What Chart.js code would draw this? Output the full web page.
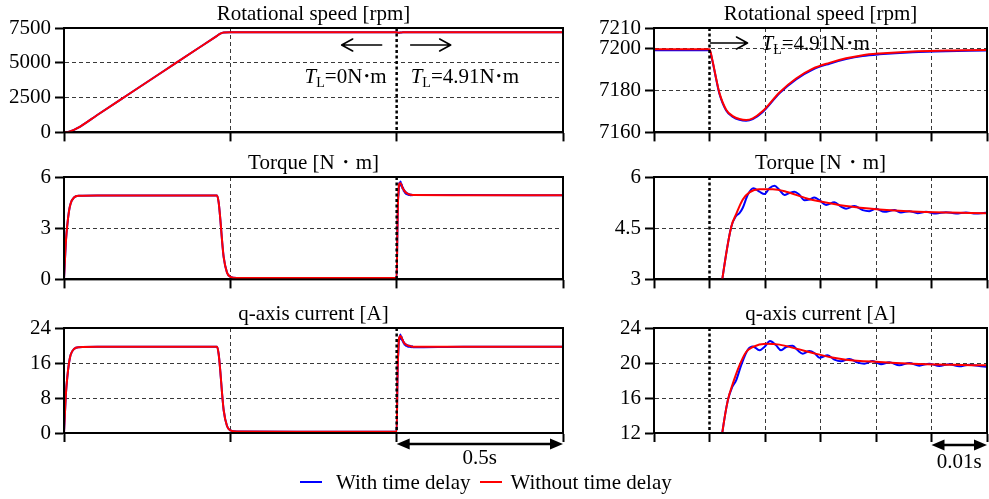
<!DOCTYPE html>
<html><head><meta charset="utf-8">
<script src="https://cdn.jsdelivr.net/npm/chart.js@4.4.1/dist/chart.umd.min.js"></script>
<style>
html,body{margin:0;padding:0;background:#fff;overflow:hidden;}
#wrap{position:relative;width:989px;height:499px;overflow:hidden;background:#fff;}
canvas{position:absolute;}
#legend{position:absolute;left:300px;top:470px;height:24px;display:flex;align-items:center;font:21px "Liberation Serif","Times New Roman",serif;color:#000;white-space:nowrap;}
.sw{display:inline-block;width:22px;height:2px;}
</style></head><body>
<div id="wrap">
<canvas id="c1"></canvas><canvas id="c2"></canvas>
<canvas id="c3"></canvas><canvas id="c4"></canvas>
<canvas id="c5"></canvas><canvas id="c6"></canvas>
<div id="legend"></div>
</div>
<script>
// ---------------- data ----------------
const seriesNames = ['With time delay', 'Without time delay'];
const seriesColors = ['#0000ff', '#ff0000'];
const titles = ['Rotational speed [rpm]', 'Torque [N・m]', 'q-axis current [A]'];
const LOAD_TIME = 1.0;
const loadLabels = ['0', '4.91'];
const scaleBarLeft = [1.0, 1.5];   // 0.5 s
const scaleBarRight = [1.04, 1.05]; // 0.01 s
const scaleBarTexts = ['0.5s', '0.01s'];

const xTicksLeft = [0, 0.5, 1.0, 1.5];
const xTicksRight = [0.99, 1.0, 1.01, 1.02, 1.03, 1.04, 1.05];
const speedTicksLeft = [0, 2500, 5000, 7500];
const speedTicksRight = [7160, 7180, 7200, 7210];
const torqueTicksLeft = [0, 3, 6];
const torqueTicksRight = [3, 4.5, 6];
const currentTicksLeft = [0, 8, 16, 24];
const currentTicksRight = [12, 16, 20, 24];

// rotational speed [rpm]
const tSpeed = [0, 0.01, 0.02, 0.04, 0.1, 0.2, 0.3, 0.4, 0.46, 0.47,
  0.48, 0.5, 0.8, 1.0, 1.0006, 1.0012, 1.0018, 1.003, 1.0042, 1.0054,
  1.0066, 1.0078, 1.0096, 1.0126, 1.0156, 1.0186, 1.0216, 1.0246, 1.0276, 1.0306,
  1.0366, 1.0426, 1.0498, 1.2, 1.5];
const speedWithout = [0, 20, 80, 300, 1250, 2830, 4410, 5990, 6940, 7100,
  7180, 7199.5, 7199.6, 7199.8, 7193.6, 7185.8, 7178.8, 7170.9, 7167.8, 7166.4,
  7165.9, 7166.7, 7170.2, 7179.1, 7185.8, 7190.5, 7193.3, 7195.5, 7197.0, 7197.8,
  7198.8, 7199.2, 7199.5, 7199.6, 7199.6];
const speedWith = [0, 20, 80, 300, 1250, 2830, 4410, 5990, 6940, 7100,
  7180, 7199.2, 7199.3, 7199.4, 7193.3, 7185.5, 7178.4, 7170.5, 7167.4, 7166.0,
  7165.6, 7166.4, 7169.8, 7178.7, 7185.4, 7190.1, 7192.9, 7195.1, 7196.6, 7197.4,
  7198.4, 7198.9, 7199.2, 7199.3, 7199.3];

// torque [N・m]
const tTorqueWithout = [0, 0.003, 0.006, 0.01, 0.015, 0.02, 0.03, 0.045, 0.1, 0.46,
  0.465, 0.47, 0.475, 0.48, 0.49, 0.5, 0.52, 0.7, 1.0, 1.0023,
  1.0039, 1.0048, 1.006, 1.0072, 1.009, 1.0114, 1.0138, 1.0174, 1.0198, 1.0246,
  1.0306, 1.0366, 1.0426, 1.0499, 1.2, 1.5];
const torqueWithout = [0, 1.2, 2.3, 3.2, 4.0, 4.45, 4.8, 4.9, 4.92, 4.92,
  4.5, 3.5, 2.3, 1.3, 0.4, 0.15, 0.08, 0.08, 0.08, 3.0,
  4.53, 4.91, 5.34, 5.55, 5.64, 5.64, 5.57, 5.38, 5.29, 5.15,
  5.05, 4.99, 4.96, 4.94, 4.93, 4.93];
const tTorqueWith = [0, 0.003, 0.006, 0.01, 0.015, 0.02, 0.03, 0.045, 0.1, 0.46,
  0.465, 0.47, 0.475, 0.48, 0.49, 0.5, 0.52, 0.7, 1.0,
  1.0023, 1.0039, 1.0048, 1.0054, 1.006, 1.0069, 1.0079, 1.009, 1.0099, 1.0108,
  1.0117, 1.0126, 1.0135, 1.0144, 1.0153, 1.0162, 1.0171, 1.018, 1.0189, 1.0198,
  1.021, 1.0225, 1.0237, 1.0246, 1.0261, 1.0276, 1.0288, 1.03, 1.0315, 1.0333,
  1.0345, 1.036, 1.0375, 1.039, 1.0408, 1.0426, 1.0444, 1.0462, 1.048, 1.0498,
  1.2, 1.5];
const torqueWith = [0, 1.2, 2.3, 3.2, 4.0, 4.45, 4.8, 4.9, 4.92, 4.92,
  4.5, 3.5, 2.3, 1.3, 0.4, 0.15, 0.08, 0.08, 0.08,
  3.0, 4.53, 4.86, 4.94, 5.10, 5.48, 5.67, 5.57, 5.50, 5.67,
  5.74, 5.62, 5.47, 5.53, 5.57, 5.48, 5.32, 5.34, 5.40, 5.32,
  5.18, 5.26, 5.13, 5.07, 5.15, 5.03, 5.00, 5.07, 4.98, 5.03,
  4.96, 5.00, 4.94, 4.98, 4.93, 4.97, 4.93, 4.96, 4.93, 4.95,
  4.94, 4.93];

// q-axis current [A]
const tCurrentWithout = [0, 0.003, 0.006, 0.01, 0.015, 0.02, 0.03, 0.045, 0.1, 0.46,
  0.465, 0.47, 0.475, 0.48, 0.49, 0.5, 0.52, 0.7, 1.0,
  1.0023, 1.0033, 1.0042, 1.0054, 1.0066, 1.0078, 1.0102, 1.0126, 1.0156, 1.0186,
  1.0216, 1.0246, 1.0306, 1.0366, 1.0426, 1.0498, 1.2, 1.5];
const currentWithout = [0, 4.8, 9.2, 12.8, 16.0, 17.9, 19.2, 19.6, 19.7, 19.7,
  18.0, 14.0, 9.2, 5.2, 1.6, 0.6, 0.32, 0.3, 0.3,
  12.0, 15.73, 17.64, 19.73, 21.26, 21.83, 22.2, 22.1, 21.64, 21.14,
  20.69, 20.38, 20.11, 19.92, 19.81, 19.73, 19.72, 19.72];
const tCurrentWith = [0, 0.003, 0.006, 0.01, 0.015, 0.02, 0.03, 0.045, 0.1, 0.46,
  0.465, 0.47, 0.475, 0.48, 0.49, 0.5, 0.52, 0.7, 1.0,
  1.0023, 1.0033, 1.0041, 1.0048, 1.0057, 1.0069, 1.0078, 1.009, 1.0099, 1.0109,
  1.012, 1.0129, 1.0138, 1.015, 1.0159, 1.0168, 1.018, 1.0189, 1.0198, 1.0213,
  1.0225, 1.0237, 1.0252, 1.0267, 1.0279, 1.0294, 1.0309, 1.0324, 1.0342, 1.036,
  1.0378, 1.0396, 1.0414, 1.0432, 1.045, 1.0468, 1.0486, 1.0498, 1.2, 1.5];
const currentWith = [0, 4.8, 9.2, 12.8, 16.0, 17.9, 19.2, 19.6, 19.7, 19.7,
  18.0, 14.0, 9.2, 5.2, 1.6, 0.6, 0.32, 0.3, 0.3,
  12.0, 15.73, 17.26, 18.02, 19.73, 21.52, 21.9, 21.45, 21.83, 22.51,
  22.02, 21.45, 21.83, 21.98, 21.45, 21.07, 21.37, 21.14, 20.61, 20.88,
  20.38, 20.19, 20.46, 20.04, 19.92, 20.23, 19.85, 20.08, 19.73, 20.0,
  19.70, 19.92, 19.66, 19.85, 19.62, 19.81, 19.66, 19.58, 19.7, 19.7];

// ---------------- drawing ----------------
const SERIF = '"Liberation Serif", "Times New Roman", serif';
Chart.defaults.font.family = SERIF;
Chart.defaults.font.size = 21;
Chart.defaults.color = '#000';

const near = (a, b) => Math.abs(a - b) < 1e-9;
function gridColorFn(hidden) {
  return c => (c.tick && hidden.some(h => near(c.tick.value, h))) ? 'rgba(0,0,0,0)' : '#3a3a3a';
}

function richText(ctx, x, y, parts, align) {
  ctx.save();
  ctx.textBaseline = 'alphabetic'; ctx.textAlign = 'left'; ctx.fillStyle = '#000';
  const ws = parts.map(p => { ctx.font = p.f; return p.w != null ? p.w : ctx.measureText(p.t).width; });
  const total = ws.reduce((a, b) => a + b, 0);
  let cx = align === 'right' ? x - total : (align === 'center' ? x - total / 2 : x);
  parts.forEach((p, i) => {
    ctx.font = p.f;
    const real = ctx.measureText(p.t).width;
    ctx.fillText(p.t, cx + (ws[i] - real) / 2, y + (p.dy || 0));
    cx += ws[i];
  });
  ctx.restore();
}
function tlParts(v) {
  return [
    {t: 'T', f: 'italic 21px ' + SERIF},
    {t: 'L', f: '14px ' + SERIF, dy: 4},
    {t: '=' + v + 'N', f: '21px ' + SERIF},
    {t: '・', f: '21px ' + SERIF, w: 8},
    {t: 'm', f: '21px ' + SERIF}
  ];
}
function openArrow(ctx, x1, x2, y) {
  const d = Math.sign(x2 - x1);
  ctx.save(); ctx.strokeStyle = '#000'; ctx.lineWidth = 1.6; ctx.lineCap = 'round'; ctx.lineJoin = 'round';
  ctx.beginPath(); ctx.moveTo(x1, y); ctx.lineTo(x2, y);
  ctx.moveTo(x2 - d * 11, y - 6); ctx.lineTo(x2, y); ctx.lineTo(x2 - d * 11, y + 6);
  ctx.stroke(); ctx.restore();
}
function dblArrow(ctx, x1, x2, y) {
  ctx.save(); ctx.fillStyle = '#000'; ctx.strokeStyle = '#000'; ctx.lineWidth = 2.5;
  ctx.beginPath(); ctx.moveTo(x1 + 8, y); ctx.lineTo(x2 - 8, y); ctx.stroke();
  ctx.beginPath(); ctx.moveTo(x1, y); ctx.lineTo(x1 + 13, y - 5.5); ctx.lineTo(x1 + 13, y + 5.5); ctx.closePath(); ctx.fill();
  ctx.beginPath(); ctx.moveTo(x2, y); ctx.lineTo(x2 - 13, y - 5.5); ctx.lineTo(x2 - 13, y + 5.5); ctx.closePath(); ctx.fill();
  ctx.restore();
}

function overlayPlugin(extra) {
  return {
    id: 'overlay',
    afterDatasetsDraw(chart) {
      const {ctx, chartArea: a, scales: {x}} = chart;
      const lx = x.getPixelForValue(LOAD_TIME);
      ctx.save();
      ctx.strokeStyle = '#000'; ctx.lineWidth = 2.5; ctx.setLineDash([3, 2.5]);
      ctx.beginPath(); ctx.moveTo(lx, a.top); ctx.lineTo(lx, a.bottom); ctx.stroke();
      ctx.setLineDash([]); ctx.lineWidth = 2;
      ctx.strokeRect(a.left, a.top, a.right - a.left, a.bottom - a.top);
      ctx.restore();
      if (extra) extra(chart, lx);
    }
  };
}

function ds(label, t, v, color, order) {
  return { label, data: t.map((x, i) => ({x, y: v[i]})), borderColor: color, backgroundColor: color,
    borderWidth: 2, pointRadius: 0, pointHoverRadius: 0, cubicInterpolationMode: 'monotone', fill: false, order };
}

const AXW = 64;
function makeChart(s) {
  const cv = document.getElementById(s.id);
  cv.width = s.w; cv.height = s.h;
  cv.style.left = s.l + 'px'; cv.style.top = s.t + 'px';
  cv.style.width = s.w + 'px'; cv.style.height = s.h + 'px';
  return new Chart(cv, {
    type: 'line',
    data: { datasets: [
      ds(seriesNames[0], s.tWith, s.vWith, seriesColors[0], 1),
      ds(seriesNames[1], s.tWithout, s.vWithout, seriesColors[1], 0)
    ]},
    options: {
      responsive: false, animation: false, devicePixelRatio: 1,
      events: [],
      layout: { padding: { top: s.pt, bottom: s.pb, left: 0, right: 0 } },
      plugins: {
        legend: { display: false }, tooltip: { enabled: false },
        title: { display: true, text: s.title, color: '#000',
          font: { size: 21, lineHeight: 1, weight: 'normal' }, padding: { top: 0, bottom: 3 } }
      },
      scales: {
        x: {
          type: 'linear', min: s.xTicks[0], max: s.xTicks[s.xTicks.length - 1],
          afterBuildTicks: sc => { sc.ticks = s.xTicks.map(v => ({value: v})); },
          afterFit: sc => { sc.height = 10; },
          ticks: { display: false },
          grid: { color: gridColorFn([s.xTicks[0], s.xTicks[s.xTicks.length - 1], LOAD_TIME]),
            lineWidth: 1, tickLength: 9, tickColor: '#000', tickWidth: 2 },
          border: { display: true, color: '#000', width: 2, dash: [4, 3] }
        },
        y: {
          type: 'linear', position: 'left', min: s.yTicks[0], max: s.yTicks[s.yTicks.length - 1],
          afterBuildTicks: sc => { sc.ticks = s.yTicks.map(v => ({value: v})); },
          afterFit: sc => { sc.width = AXW; },
          ticks: { autoSkip: false, padding: 4, color: '#000', font: { size: 21 }, callback: v => String(v) },
          grid: { color: gridColorFn([s.yTicks[0], s.yTicks[s.yTicks.length - 1]]),
            lineWidth: 1, tickLength: 9, tickColor: '#000', tickWidth: 2 },
          border: { display: true, color: '#000', width: 2, dash: [4, 3] }
        },
        yR: {
          type: 'linear', position: 'right', display: true, min: 0, max: 1,
          afterFit: sc => { sc.width = AXW; },
          grid: { display: false }, ticks: { display: false }, border: { display: false }
        }
      }
    },
    plugins: [overlayPlugin(s.extra)]
  });
}

const LEFT = {l: 0, w: 627};
const RIGHT = {l: 590, w: 461};
const ROWS = [{t: 0, h: 149, pt: 4, pb: 4}, {t: 149, h: 147, pt: 4, pb: 4}, {t: 300, h: 183, pt: 4, pb: 40}];

makeChart(Object.assign({id: 'c1', title: titles[0], xTicks: xTicksLeft, yTicks: speedTicksLeft,
  tWith: tSpeed, vWith: speedWith, tWithout: tSpeed, vWithout: speedWithout,
  extra: (chart, lx) => {
    const {ctx, chartArea: a} = chart;
    openArrow(ctx, lx - 15, lx - 55, a.top + 17);
    openArrow(ctx, lx + 14, lx + 54, a.top + 17);
    richText(ctx, lx - 10, a.top + 55, tlParts(loadLabels[0]), 'right');
    richText(ctx, lx + 14, a.top + 55, tlParts(loadLabels[1]), 'left');
  }}, LEFT, ROWS[0]));
makeChart(Object.assign({id: 'c2', title: titles[0], xTicks: xTicksRight, yTicks: speedTicksRight,
  tWith: tSpeed, vWith: speedWith, tWithout: tSpeed, vWithout: speedWithout,
  extra: (chart, lx) => {
    const {ctx, chartArea: a} = chart;
    openArrow(ctx, lx + 1, lx + 38, a.top + 15);
    richText(ctx, lx + 52, a.top + 22, tlParts(loadLabels[1]), 'left');
  }}, RIGHT, ROWS[0]));
makeChart(Object.assign({id: 'c3', title: titles[1], xTicks: xTicksLeft, yTicks: torqueTicksLeft,
  tWith: tTorqueWith, vWith: torqueWith, tWithout: tTorqueWithout, vWithout: torqueWithout}, LEFT, ROWS[1]));
makeChart(Object.assign({id: 'c4', title: titles[1], xTicks: xTicksRight, yTicks: torqueTicksRight,
  tWith: tTorqueWith, vWith: torqueWith, tWithout: tTorqueWithout, vWithout: torqueWithout}, RIGHT, ROWS[1]));
makeChart(Object.assign({id: 'c5', title: titles[2], xTicks: xTicksLeft, yTicks: currentTicksLeft,
  tWith: tCurrentWith, vWith: currentWith, tWithout: tCurrentWithout, vWithout: currentWithout,
  extra: (chart) => {
    const {ctx, chartArea: a, scales: {x}} = chart;
    const x1 = x.getPixelForValue(scaleBarLeft[0]), x2 = x.getPixelForValue(scaleBarLeft[1]);
    dblArrow(ctx, x1, x2, a.bottom + 11);
    richText(ctx, (x1 + x2) / 2, a.bottom + 31, [{t: scaleBarTexts[0], f: '21px ' + SERIF}], 'center');
  }}, LEFT, ROWS[2]));
makeChart(Object.assign({id: 'c6', title: titles[2], xTicks: xTicksRight, yTicks: currentTicksRight,
  tWith: tCurrentWith, vWith: currentWith, tWithout: tCurrentWithout, vWithout: currentWithout,
  extra: (chart) => {
    const {ctx, chartArea: a, scales: {x}} = chart;
    const x1 = x.getPixelForValue(scaleBarRight[0]), x2 = x.getPixelForValue(scaleBarRight[1]);
    dblArrow(ctx, x1, x2, a.bottom + 12);
    richText(ctx, (x1 + x2) / 2, a.bottom + 35, [{t: scaleBarTexts[1], f: '21px ' + SERIF}], 'center');
  }}, RIGHT, ROWS[2]));

// legend
const lg = document.getElementById('legend');
seriesNames.forEach((name, i) => {
  const sw = document.createElement('span');
  sw.className = 'sw'; sw.style.background = seriesColors[i];
  sw.style.marginRight = i === 0 ? '14px' : '8px';
  if (i > 0) sw.style.marginLeft = '10px';
  lg.appendChild(sw);
  lg.appendChild(document.createTextNode(name));
});
</script>
</body></html>
